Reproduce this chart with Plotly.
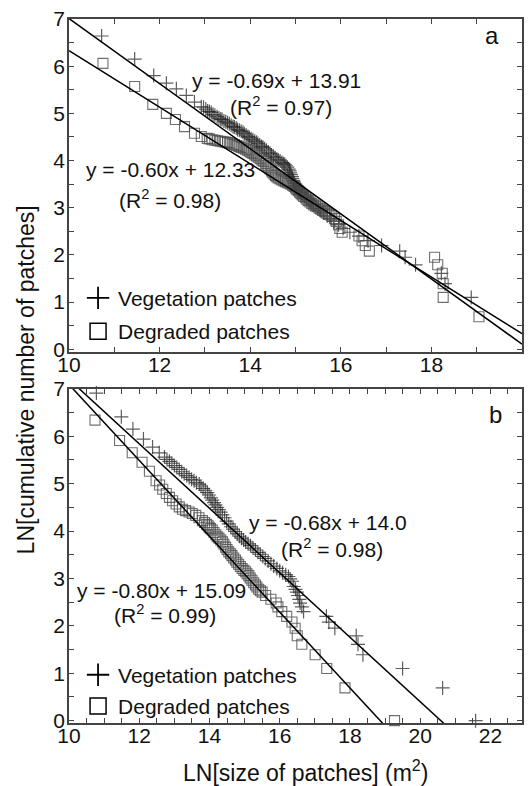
import plotly.graph_objects as go

# ---------------- data ----------------
veg_a_x = [
    10.72, 11.45, 11.87, 12.15, 12.37, 12.59, 12.77, 12.92, 13.02, 13.10,
    13.18, 13.27, 13.35, 13.42, 13.50, 13.58, 13.65, 13.72, 13.80, 13.87,
    13.95, 14.02, 14.10, 14.17, 14.25, 14.32, 14.40, 14.47, 14.55, 14.62,
    14.70, 14.76, 14.82, 14.87, 14.90, 14.93, 14.96, 15.00, 15.04, 15.08,
    15.13, 15.20, 15.28, 15.36, 15.45, 15.55, 15.62, 15.70, 15.78, 15.85,
    15.95, 16.05, 16.20, 16.40, 16.60, 16.90, 17.30, 17.42, 17.65, 18.22,
    18.30, 18.88]
veg_a_y = [
    6.64, 6.15, 5.80, 5.64, 5.52, 5.38, 5.24, 5.14, 5.09, 5.04,
    4.98, 4.93, 4.88, 4.84, 4.80, 4.75, 4.71, 4.66, 4.62, 4.57,
    4.51, 4.46, 4.41, 4.36, 4.30, 4.25, 4.18, 4.12, 4.06, 4.01,
    3.96, 3.92, 3.86, 3.78, 3.70, 3.62, 3.55, 3.47, 3.41, 3.36,
    3.31, 3.24, 3.17, 3.10, 3.02, 2.94, 2.89, 2.83, 2.77, 2.71,
    2.64, 2.56, 2.48, 2.40, 2.30, 2.20, 2.08, 1.95, 1.79, 1.61,
    1.39, 1.10]
# additional points in the dense part of the band
veg_a_dense_x = [
    12.97, 13.06, 13.14, 13.22, 13.31, 13.38, 13.46, 13.54, 13.62, 13.69,
    13.76, 13.84, 13.91, 13.98, 14.06, 14.14, 14.21, 14.28, 14.36, 14.44,
    14.51, 14.59, 14.66, 14.73, 14.79, 14.85, 14.88, 14.92, 14.95, 14.98,
    15.02, 15.06, 15.10, 15.16, 15.24, 15.32, 15.40, 15.50]
veg_a_dense_y = [
    5.13, 5.05, 5.02, 4.96, 4.90, 4.87, 4.82, 4.78, 4.72, 4.69,
    4.64, 4.60, 4.54, 4.49, 4.44, 4.39, 4.33, 4.28, 4.22, 4.15,
    4.09, 4.03, 3.99, 3.94, 3.89, 3.82, 3.74, 3.66, 3.58, 3.51,
    3.44, 3.38, 3.33, 3.28, 3.21, 3.14, 3.07, 2.98]

deg_a_x = [
    10.75, 11.45, 11.85, 12.15, 12.35, 12.55, 12.77, 12.92, 13.05, 13.16,
    13.28, 13.40, 13.50, 13.60, 13.70, 13.80, 13.90, 13.98, 14.06, 14.14,
    14.22, 14.30, 14.37, 14.44, 14.50, 14.56, 14.62, 14.70, 14.78, 14.86,
    14.94, 15.00, 15.06, 15.12, 15.18, 15.25, 15.32, 15.40, 15.48, 15.56,
    15.64, 15.72, 15.80, 15.86, 15.90, 15.95, 15.98, 16.03, 16.40, 16.47,
    16.54, 16.63, 18.07, 18.14, 18.24, 18.26, 18.26, 19.05]
deg_a_y = [
    6.06, 5.57, 5.19, 5.00, 4.87, 4.72, 4.58, 4.51, 4.47, 4.44,
    4.42, 4.40, 4.38, 4.35, 4.32, 4.28, 4.24, 4.20, 4.15, 4.10,
    4.04, 3.98, 3.90, 3.82, 3.74, 3.68, 3.63, 3.59, 3.55, 3.52,
    3.47, 3.42, 3.36, 3.30, 3.24, 3.18, 3.12, 3.06, 3.02, 2.97,
    2.92, 2.87, 2.83, 2.77, 2.71, 2.64, 2.56, 2.48, 2.40, 2.30,
    2.20, 2.08, 1.95, 1.79, 1.61, 1.39, 1.10, 0.69]
deg_a_dense_x = [
    13.10, 13.22, 13.34, 13.45, 13.55, 13.65, 13.75, 13.85, 13.94, 14.02,
    14.10, 14.18, 14.26, 14.34, 14.40, 14.47, 14.53, 14.59, 14.66, 14.74,
    14.82, 14.90, 14.97, 15.03, 15.09, 15.15, 15.22, 15.28, 15.36, 15.44,
    15.52, 15.60, 15.68, 15.76]
deg_a_dense_y = [
    4.46, 4.43, 4.41, 4.39, 4.37, 4.34, 4.30, 4.26, 4.22, 4.17,
    4.12, 4.07, 4.01, 3.94, 3.86, 3.78, 3.71, 3.65, 3.61, 3.57,
    3.53, 3.50, 3.45, 3.39, 3.33, 3.27, 3.21, 3.15, 3.09, 3.04,
    2.99, 2.94, 2.89, 2.85]

veg_b_x = [
    10.78, 11.49, 11.82, 12.12, 12.38, 12.57, 12.72, 12.86, 13.00, 13.14,
    13.28, 13.42, 13.56, 13.71, 13.82, 13.94, 14.04, 14.13, 14.22, 14.32,
    14.43, 14.55, 14.67, 14.79, 14.91, 15.03, 15.17, 15.31, 15.45, 15.59,
    15.75, 15.92, 16.08, 16.25, 16.30, 16.35, 16.40, 16.45, 16.49, 16.52,
    16.56, 16.58, 16.63, 16.68, 17.33, 17.40, 17.57, 18.18, 18.23, 18.37,
    19.50, 20.64, 21.58]
veg_b_y = [
    6.91, 6.41, 6.15, 5.94, 5.77, 5.65, 5.56, 5.47, 5.38, 5.30,
    5.21, 5.13, 5.06, 4.99, 4.90, 4.81, 4.70, 4.60, 4.50, 4.40,
    4.28, 4.15, 4.04, 3.94, 3.85, 3.77, 3.69, 3.60, 3.51, 3.42,
    3.31, 3.21, 3.12, 3.04, 2.99, 2.94, 2.83, 2.77, 2.71, 2.64,
    2.56, 2.48, 2.40, 2.30, 2.20, 2.08, 1.95, 1.79, 1.61, 1.39,
    1.10, 0.69, 0.00]
veg_b_dense_x = [
    12.79, 12.93, 13.07, 13.21, 13.35, 13.49, 13.63, 13.76, 13.88, 13.99,
    14.08, 14.17, 14.27, 14.37, 14.49, 14.61, 14.73, 14.85, 14.97, 15.10,
    15.24, 15.38, 15.52, 15.67, 15.83, 16.00, 16.17]
veg_b_dense_y = [
    5.51, 5.43, 5.34, 5.25, 5.17, 5.09, 5.02, 4.95, 4.86, 4.76,
    4.65, 4.55, 4.45, 4.34, 4.21, 4.09, 3.99, 3.89, 3.81, 3.73,
    3.64, 3.55, 3.46, 3.37, 3.26, 3.16, 3.08]

deg_b_x = [
    10.74, 11.44, 11.80, 12.08, 12.29, 12.48, 12.67, 12.86, 13.05, 13.23,
    13.42, 13.61, 13.80, 13.92, 13.99, 14.08, 14.18, 14.27, 14.37, 14.46,
    14.55, 14.64, 14.74, 14.83, 14.93, 15.03, 15.12, 15.21, 15.31, 15.40,
    15.50, 15.60, 15.75, 15.90, 15.95, 16.06, 16.20, 16.35, 16.44, 16.50,
    16.63, 17.01, 17.34, 17.86, 19.27]
deg_b_y = [
    6.34, 5.91, 5.65, 5.45, 5.26, 5.06, 4.88, 4.71, 4.57, 4.46,
    4.40, 4.33, 4.22, 4.14, 4.08, 4.02, 3.92, 3.85, 3.77, 3.66,
    3.56, 3.48, 3.39, 3.30, 3.21, 3.14, 3.06, 2.96, 2.86, 2.77,
    2.71, 2.64, 2.56, 2.48, 2.40, 2.30, 2.20, 2.08, 1.95, 1.79,
    1.61, 1.39, 1.10, 0.69, 0.00]
deg_b_dense_x = [
    12.58, 12.77, 12.95, 13.14, 13.32, 13.51, 13.70, 13.86, 13.96, 14.03,
    14.13, 14.22, 14.32, 14.41, 14.50, 14.60, 14.69, 14.78, 14.88, 14.98,
    15.07, 15.16, 15.26, 15.35, 15.45]
deg_b_dense_y = [
    4.97, 4.79, 4.64, 4.51, 4.43, 4.37, 4.28, 4.18, 4.11, 4.05,
    3.97, 3.88, 3.81, 3.72, 3.61, 3.52, 3.43, 3.34, 3.25, 3.17,
    3.10, 3.01, 2.91, 2.82, 2.74]

# regression fits: (slope, intercept)
fit_veg_a = (-0.69, 13.91)
fit_deg_a = (-0.60, 12.33)
fit_veg_b = (-0.68, 14.0)
fit_deg_b = (-0.80, 15.09)

series_names = ["Vegetation patches", "Degraded patches"]
xrange_a = [10, 20]
xrange_b = [10, 22.9]
yrange = [-0.05, 7]

# ---------------- figure ----------------
FONT = "Liberation Sans, Arial, sans-serif"
PLUS_C = "rgba(30,30,30,0.72)"
SQ_C = "rgba(75,75,75,0.8)"

fig = go.Figure()


def add_panel(xv, yv, xd, yd, fits, xr, xa, ya, leg):
    fig.add_trace(go.Scatter(x=xv, y=yv, mode="markers", xaxis=xa, yaxis=ya,
                             marker=dict(symbol="cross-thin-open", size=10, color=PLUS_C,
                                         line=dict(width=1.2, color=PLUS_C)),
                             showlegend=False, cliponaxis=False))
    fig.add_trace(go.Scatter(x=xd, y=yd, mode="markers", xaxis=xa, yaxis=ya,
                             marker=dict(symbol="square-open", size=10, color=SQ_C,
                                         line=dict(width=1.1, color=SQ_C)),
                             showlegend=False, cliponaxis=False))
    for m, b in fits:
        fig.add_trace(go.Scatter(x=xr, y=[m * xr[0] + b, m * xr[1] + b], mode="lines",
                                 xaxis=xa, yaxis=ya, line=dict(color="black", width=1.5),
                                 showlegend=False, hoverinfo="skip"))
    # legend entries
    fig.add_trace(go.Scatter(x=[None], y=[None], mode="markers", xaxis=xa, yaxis=ya,
                             name=series_names[0], legend=leg, legendgroup=leg + "v",
                             marker=dict(symbol="cross-thin-open", size=16, color="black",
                                         line=dict(width=1.8, color="black"))))
    fig.add_trace(go.Scatter(x=[None], y=[None], mode="markers", xaxis=xa, yaxis=ya,
                             name=series_names[1], legend=leg, legendgroup=leg + "d",
                             marker=dict(symbol="square-open", size=16, color="black",
                                         line=dict(width=1.5, color="black"))))


add_panel(veg_a_x + veg_a_dense_x, veg_a_y + veg_a_dense_y,
          deg_a_x + deg_a_dense_x, deg_a_y + deg_a_dense_y,
          [fit_veg_a, fit_deg_a], xrange_a, "x", "y", "legend")
add_panel(veg_b_x + veg_b_dense_x, veg_b_y + veg_b_dense_y,
          deg_b_x + deg_b_dense_x, deg_b_y + deg_b_dense_y,
          [fit_veg_b, fit_deg_b], xrange_b, "x2", "y2", "legend2")

axis_common = dict(showline=True, linecolor="#444", linewidth=1.5, mirror="ticks",
                   ticks="inside", ticklen=5, tickwidth=1.2, tickcolor="#444",
                   showgrid=False, zeroline=False,
                   tickfont=dict(family=FONT, size=21, color="#111"))
minor_common = dict(ticks="inside", ticklen=5, tickwidth=1.2, tickcolor="#444", showgrid=False)

fig.update_layout(
    width=531, height=786,
    margin=dict(l=69, r=7, t=11, b=63),
    paper_bgcolor="white", plot_bgcolor="white",
    font=dict(family=FONT, size=21, color="#111"),
    xaxis=dict(axis_common, range=xrange_a, tick0=10, dtick=2, anchor="y",
               domain=[0, 1], minor=dict(minor_common, dtick=1), ticklabelstandoff=-7),
    yaxis=dict(axis_common, range=yrange, tick0=0, dtick=1, anchor="x",
               domain=[0.5275, 1.0], minor=dict(minor_common, dtick=0.5), ticklabelstandoff=-2),
    xaxis2=dict(axis_common, range=xrange_b, tick0=10, dtick=2, anchor="y2",
                domain=[0, 1], minor=dict(minor_common, dtick=0.5), ticklabelstandoff=-7),
    yaxis2=dict(axis_common, range=yrange, tick0=0, dtick=1, anchor="x2",
                domain=[0, 0.4747], minor=dict(minor_common, dtick=0.5), ticklabelstandoff=-2),
    legend=dict(x=0.02, y=0.58, xanchor="left", yanchor="middle",
                bgcolor="rgba(0,0,0,0)", tracegroupgap=3,
                font=dict(family=FONT, size=21, color="#111")),
    legend2=dict(x=0.02, y=0.046, xanchor="left", yanchor="middle",
                 bgcolor="rgba(0,0,0,0)", tracegroupgap=1,
                 font=dict(family=FONT, size=21, color="#111")),
    showlegend=True,
)

ann_font = dict(family=FONT, size=21, color="#111")
annotations = [
    dict(text="y = -0.69x + 13.91", x=14.57, y=5.70, xref="x", yref="y"),
    dict(text="(R<sup>2</sup> = 0.97)", x=14.68, y=5.16, xref="x", yref="y"),
    dict(text="y = -0.60x + 12.33", x=12.24, y=3.80, xref="x", yref="y"),
    dict(text="(R<sup>2</sup> = 0.98)", x=12.24, y=3.19, xref="x", yref="y"),
    dict(text="y = -0.68x + 14.0", x=17.38, y=4.17, xref="x2", yref="y2"),
    dict(text="(R<sup>2</sup> = 0.98)", x=17.5, y=3.64, xref="x2", yref="y2"),
    dict(text="y = -0.80x + 15.09", x=12.63, y=2.74, xref="x2", yref="y2"),
    dict(text="(R<sup>2</sup> = 0.99)", x=12.74, y=2.24, xref="x2", yref="y2"),
]
for a in annotations:
    fig.add_annotation(showarrow=False, font=ann_font, xanchor="center", yanchor="middle", **a)

fig.add_annotation(text="a", x=19.34, y=6.65, xref="x", yref="y", showarrow=False,
                   font=dict(family=FONT, size=24, color="#111"))
fig.add_annotation(text="b", x=22.14, y=6.45, xref="x2", yref="y2", showarrow=False,
                   font=dict(family=FONT, size=24, color="#111"))

fig.add_annotation(text="LN[cumulative number of patches]", textangle=-90,
                   x=-0.0944, y=0.487, xref="paper", yref="paper", showarrow=False,
                   xanchor="center", yanchor="middle",
                   font=dict(family=FONT, size=23, color="#111"))
fig.add_annotation(text="LN[size of patches] (m<sup>2</sup>)",
                   x=0.523, y=-0.0688, xref="paper", yref="paper", showarrow=False,
                   xanchor="center", yanchor="middle",
                   font=dict(family=FONT, size=23, color="#111"))

page_js = (
    "document.body.style.margin='0px';"
    "document.body.style.overflow='hidden';"
)
fig.write_html("out.html", config={"displayModeBar": False}, post_script=page_js)
